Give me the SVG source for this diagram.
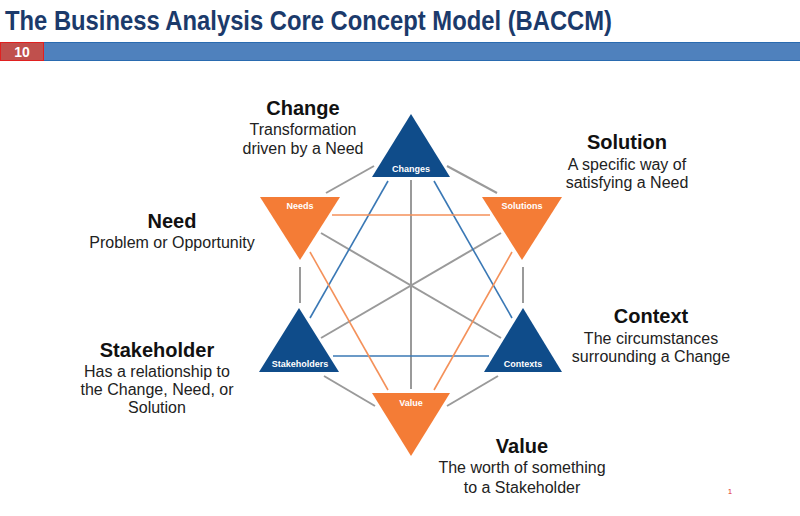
<svg xmlns="http://www.w3.org/2000/svg" width="800" height="516" viewBox="0 0 800 516">
<style>
.title{font-family:"Liberation Sans",Arial,sans-serif;font-weight:bold;font-size:28px;fill:#1b3a6b}
.h{font-family:"Liberation Sans",Arial,sans-serif;font-weight:bold;font-size:20px;fill:#111}
.b{font-family:"Liberation Sans",Arial,sans-serif;font-size:16px;fill:#222}
.tl{font-family:"Liberation Sans",Arial,sans-serif;font-weight:bold;font-size:9px;fill:#fff;text-anchor:middle}
.blue{fill:#0f4c8a}
.orange{fill:#f47c36}
.g{stroke:#9a9a9a;stroke-width:2;fill:none}
.bl{stroke:#3a78b5;stroke-width:1.6;fill:none}
.or{stroke:#f4915a;stroke-width:1.6;fill:none}
</style>
<rect width="800" height="516" fill="#fff"/>
<text class="title" x="5" y="30" textLength="607" lengthAdjust="spacingAndGlyphs">The Business Analysis Core Concept Model (BACCM)</text>
<rect x="0" y="42" width="800" height="19" fill="#4f81bd"/>
<line x1="0" y1="42.5" x2="800" y2="42.5" stroke="#2a6bb0" stroke-width="1"/>
<line x1="0" y1="60.5" x2="800" y2="60.5" stroke="#2a6bb0" stroke-width="1"/>
<rect x="0.5" y="42.5" width="43" height="18" fill="#c0504d" stroke="#e02020" stroke-width="1"/>
<text x="22" y="57" font-family="'Liberation Sans',Arial,sans-serif" font-weight="bold" font-size="14" fill="#fff" text-anchor="middle">10</text>

<g id="connectors">
<line class="g" x1="374" y1="166" x2="326" y2="193"/>
<line class="g" x1="447" y1="166" x2="497" y2="193"/>
<line class="g" x1="411" y1="180" x2="411" y2="389"/>
<line class="g" x1="300" y1="267" x2="300" y2="303"/>
<line class="g" x1="523" y1="267" x2="523" y2="303"/>
<line class="g" x1="324" y1="376" x2="375" y2="406"/>
<line class="g" x1="498" y1="376" x2="447" y2="406"/>
<line class="g" x1="321" y1="233" x2="501" y2="338"/>
<line class="g" x1="501" y1="233" x2="321" y2="338"/>
<line class="bl" x1="388" y1="181" x2="310" y2="318"/>
<line class="bl" x1="434" y1="181" x2="512" y2="318"/>
<line class="bl" x1="333" y1="356" x2="489" y2="356"/>
<line class="or" x1="332" y1="215" x2="490" y2="215"/>
<line class="or" x1="310" y1="252" x2="388" y2="390"/>
<line class="or" x1="512" y1="252" x2="434" y2="390"/>
</g>

<g id="changes">
<polygon class="blue" points="411,114 372,177 450,177"/>
<text class="tl" x="411" y="172">Changes</text>
<text class="h" x="303" y="115" text-anchor="middle">Change</text>
<text class="b" x="303" y="135" text-anchor="middle">Transformation</text>
<text class="b" x="303" y="154" text-anchor="middle">driven by a Need</text>
</g>
<g id="needs">
<polygon class="orange" points="260,197 340,197 300,260"/>
<text class="tl" x="300" y="209">Needs</text>
<text class="h" x="172" y="228" text-anchor="middle">Need</text>
<text class="b" x="172" y="248" text-anchor="middle">Problem or Opportunity</text>
</g>
<g id="solutions">
<polygon class="orange" points="482,197 562,197 522,260"/>
<text class="tl" x="522" y="209">Solutions</text>
<text class="h" x="627" y="149" text-anchor="middle">Solution</text>
<text class="b" x="627" y="170" text-anchor="middle">A specific way of</text>
<text class="b" x="627" y="188" text-anchor="middle">satisfying a Need</text>
</g>
<g id="stakeholders">
<polygon class="blue" points="299,308 259,372 339,372"/>
<text class="tl" x="300" y="367">Stakeholders</text>
<text class="h" x="157" y="357" text-anchor="middle">Stakeholder</text>
<text class="b" x="157" y="377" text-anchor="middle">Has a relationship to</text>
<text class="b" x="157" y="395" text-anchor="middle">the Change, Need, or</text>
<text class="b" x="157" y="413" text-anchor="middle">Solution</text>
</g>
<g id="contexts">
<polygon class="blue" points="523,308 484,372 562,372"/>
<text class="tl" x="523" y="367">Contexts</text>
<text class="h" x="651" y="323" text-anchor="middle">Context</text>
<text class="b" x="651" y="344" text-anchor="middle">The circumstances</text>
<text class="b" x="651" y="362" text-anchor="middle">surrounding a Change</text>
</g>
<g id="value">
<polygon class="orange" points="372,393 450,393 411,456"/>
<text class="tl" x="411" y="406">Value</text>
<text class="h" x="522" y="453" text-anchor="middle">Value</text>
<text class="b" x="522" y="473" text-anchor="middle">The worth of something</text>
<text class="b" x="522" y="493" text-anchor="middle">to a Stakeholder</text>
</g>
<text x="730" y="494" font-family="'Liberation Sans',Arial,sans-serif" font-size="8" fill="#e03030" text-anchor="middle">1</text>
</svg>
